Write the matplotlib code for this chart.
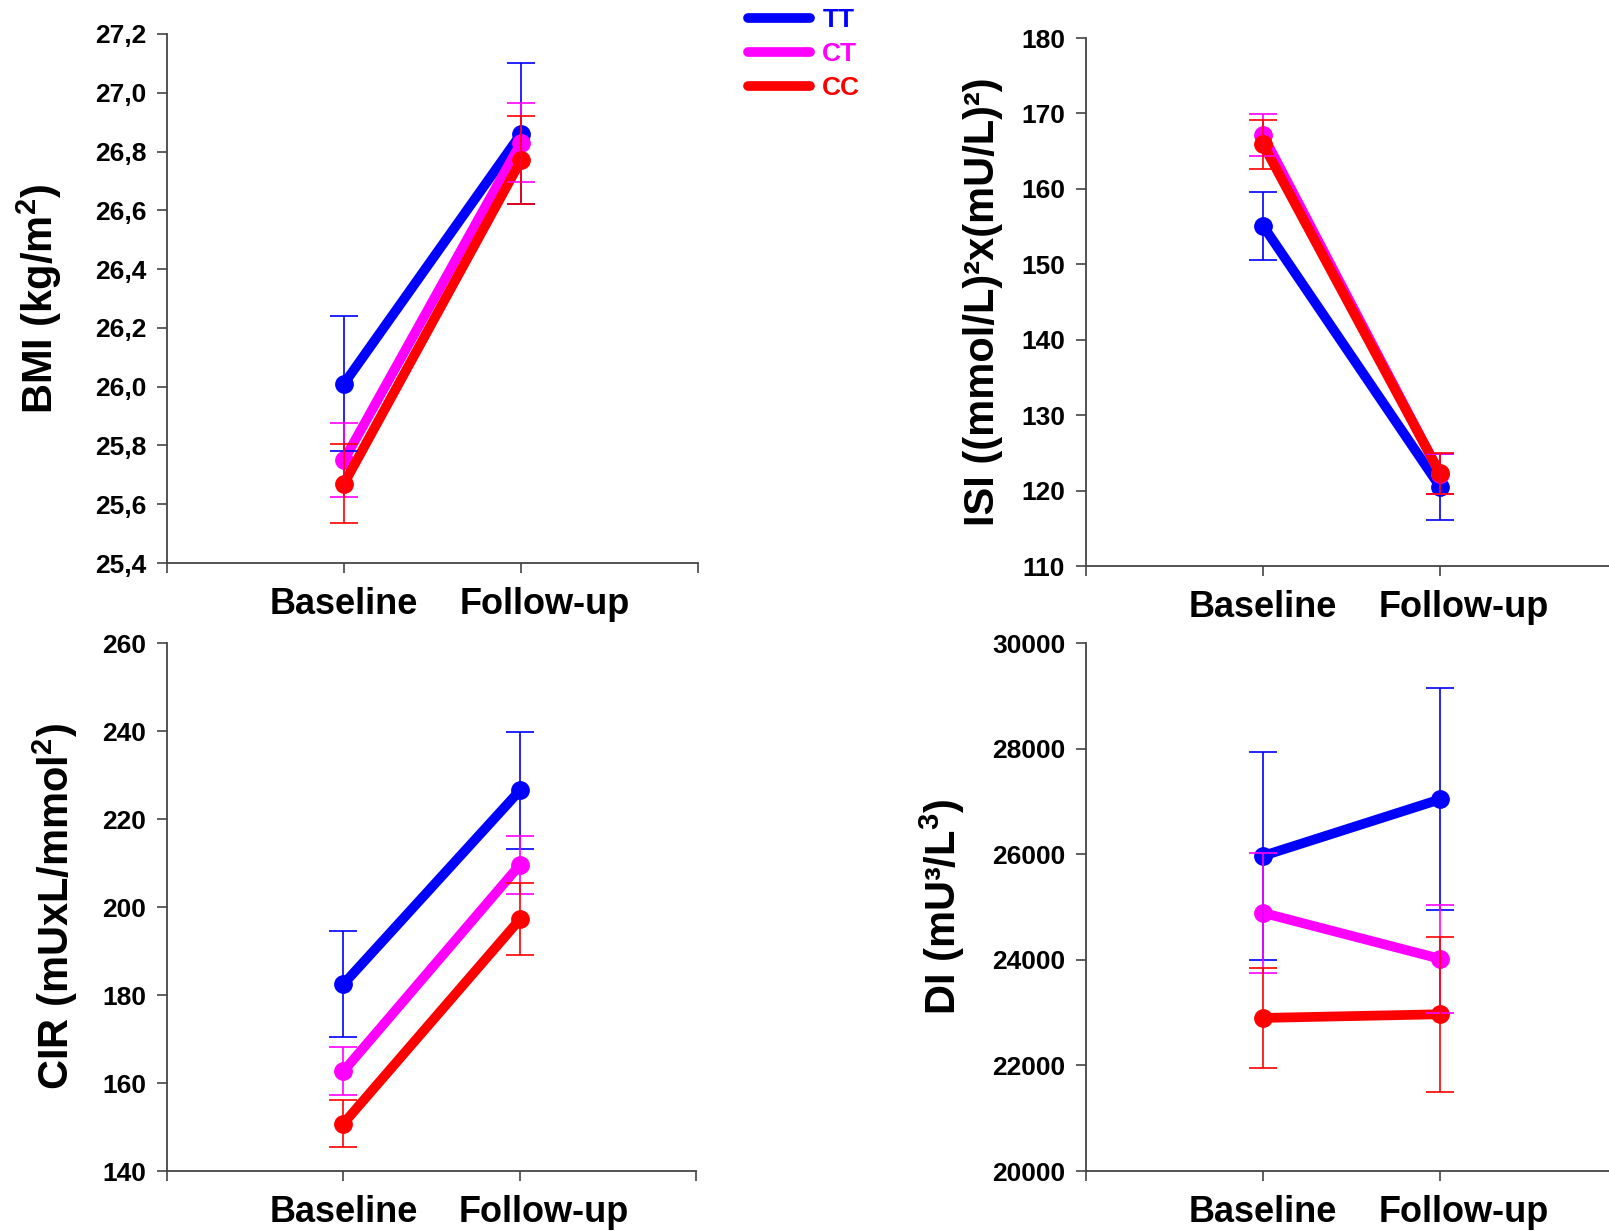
import matplotlib
matplotlib.use("Agg")
import matplotlib.pyplot as plt
import matplotlib.transforms as mtransforms
from matplotlib.lines import Line2D
from matplotlib.ticker import FuncFormatter

plt.rcParams['font.family'] = ['Liberation Sans', 'DejaVu Sans']
plt.rcParams['font.weight'] = 'bold'
plt.rcParams['mathtext.fontset'] = 'custom'
plt.rcParams['mathtext.rm'] = 'Liberation Sans:bold'
plt.rcParams['mathtext.it'] = 'Liberation Sans:bold'
plt.rcParams['mathtext.bf'] = 'Liberation Sans:bold'
plt.rcParams['mathtext.default'] = 'rm'

# data, rows = TT, CT, CC ; cols = baseline, follow-up
groups = ['TT', 'CT', 'CC']
colors = ['#0000FF', '#FF00FF', '#FF0000']
timepoints = ['Baseline', 'Follow-up']

bmi_mean = [[26.01, 26.86], [25.75, 26.83], [25.67, 26.77]]
bmi_err = [[0.23, 0.24], [0.125, 0.135], [0.135, 0.15]]

isi_mean = [[155.1, 120.5], [167.1, 122.2], [165.9, 122.3]]
isi_err = [[4.5, 4.4], [2.8, 2.6], [3.2, 2.7]]

cir_mean = [[182.5, 226.5], [162.7, 209.6], [150.8, 197.2]]
cir_err = [[12.0, 13.2], [5.4, 6.6], [5.4, 8.2]]

di_mean = [[25970, 27040], [24890, 24020], [22900, 22970]]
di_err = [[1970, 2100], [1140, 1020], [950, 1470]]

panels = [
    dict(mean=bmi_mean, err=bmi_err, ylim=(25.4, 27.2), step=0.2,
         label=r'BMI (kg/m$^{2}$)', comma=True, lx=-0.194,
         pos=[0.1038, 0.5426, 0.330, 0.4298]),
    dict(mean=isi_mean, err=isi_err, ylim=(110, 180), step=10,
         label='ISI ((mmol/L)\u00b2x(mU/L)\u00b2)', comma=False, lx=-0.156,
         pos=[0.675, 0.5402, 0.330, 0.4289]),
    dict(mean=cir_mean, err=cir_err, ylim=(140, 260), step=20,
         label=r'CIR (mUxL/mmol$^{2}$)', comma=False, lx=-0.164,
         pos=[0.1038, 0.0487, 0.329, 0.4289]),
    dict(mean=di_mean, err=di_err, ylim=(20000, 30000), step=2000,
         label='DI (mU\u00b3/L$^{3}$)', comma=False, lx=-0.224,
         pos=[0.675, 0.0487, 0.330, 0.4289]),
]

fig = plt.figure(figsize=(16.09, 12.31), dpi=100)
x = [1, 2]

for p in panels:
    ax = fig.add_axes(p['pos'])
    for g, (m, e, c) in enumerate(zip(p['mean'], p['err'], colors)):
        ax.plot(x, m, color=c, lw=7, marker='o', ms=12.5,
                solid_capstyle='round', zorder=3 + g)
        ax.errorbar(x, m, yerr=e, fmt='none', ecolor=c, elinewidth=1.2,
                    capsize=10, capthick=1.2, zorder=6 + g)

    lo, hi = p['ylim']
    ax.set_ylim(lo, hi)
    n = int(round((hi - lo) / p['step']))
    ax.set_yticks([lo + i * p['step'] for i in range(n + 1)])
    if p['comma']:
        ax.yaxis.set_major_formatter(FuncFormatter(lambda v, _: f'{v:.1f}'.replace('.', ',')))
    ax.set_xlim(0, 3)
    ax.set_xticks([0, 1, 2, 3])
    ax.set_xticklabels(['', 'Baseline', 'Follow-up', ''])

    for s in ['top', 'right']:
        ax.spines[s].set_visible(False)
    for s in ['left', 'bottom']:
        ax.spines[s].set_color('#444444')
        ax.spines[s].set_linewidth(1.3)
    ax.tick_params(axis='y', direction='out', length=7, width=1.2,
                   color='#444444', labelsize=19, pad=8)
    ax.tick_params(axis='x', direction='out', length=7, width=1.2,
                   color='#444444', labelsize=26, pad=10)

    # Follow-up label sits a bit right of its tick in the original
    lbl = ax.get_xticklabels()[2]
    shift = mtransforms.ScaledTranslation(0.24, 0, fig.dpi_scale_trans)
    lbl.set_transform(lbl.get_transform() + shift)

    ax.set_ylabel(p['label'], fontsize=30, fontweight='bold')
    ax.yaxis.set_label_coords(p['lx'], 0.5)

# legend at the top centre
handles = [Line2D([], [], color=c, lw=7, solid_capstyle='round') for c in colors]
fig.legend(handles, groups, loc='upper left', bbox_to_anchor=(0.4553, 1.0065),
           frameon=False, handlelength=2.35, handletextpad=0.45,
           labelspacing=0.38, borderpad=0.1, labelcolor=colors,
           prop={'weight': 'bold', 'size': 19})

fig.savefig('out.png', dpi=100)
